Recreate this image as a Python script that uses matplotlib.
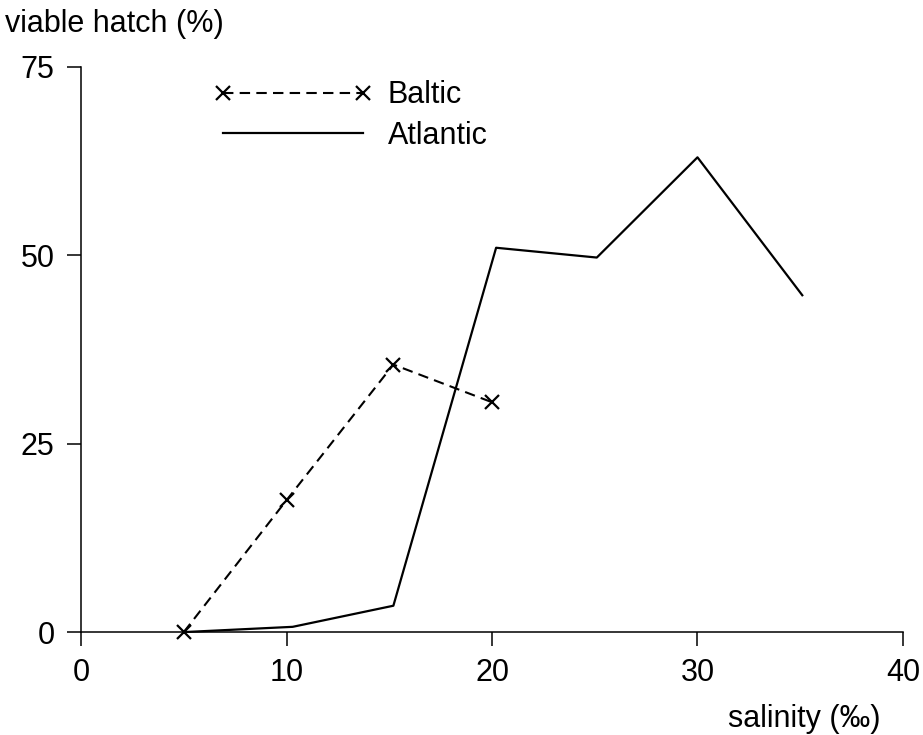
import matplotlib
matplotlib.use("Agg")
import matplotlib.pyplot as plt

plt.rcParams['font.family'] = ['Liberation Sans', 'DejaVu Sans']

# data
baltic_x = [5, 10, 15.2, 20]
baltic_y = [0, 17.5, 35.5, 30.5]
atlantic_x = [5, 10.3, 15.2, 20.2, 25.1, 30, 35.1]
atlantic_y = [0, 0.7, 3.5, 51, 49.7, 63, 44.7]

x_ticks = [0, 10, 20, 30, 40]
y_ticks = [0, 25, 50, 75]

fig = plt.figure(figsize=(9.23, 7.35), dpi=100)
ax = fig.add_axes([0.0878, 0.140, 0.8905, 0.769])

ax.plot(baltic_x, baltic_y, color='black', linestyle=(0, (5, 3)), linewidth=1.5,
        marker='x', markersize=10, markeredgewidth=1.6, label='Baltic', clip_on=False)
ax.plot(atlantic_x, atlantic_y, color='black', linewidth=1.6, label='Atlantic', clip_on=False)

ax.set_xlim(0, 40)
ax.set_ylim(0, 75)
ax.set_xticks(x_ticks)
ax.set_yticks(y_ticks)
ax.spines['top'].set_visible(False)
ax.spines['right'].set_visible(False)
for s in ['left', 'bottom']:
    ax.spines[s].set_linewidth(1.1)
ax.tick_params(direction='out', length=10, width=1.1, labelsize=22, pad=9)

fig.text(0.005, 0.968, 'viable hatch (%)', fontsize=22, ha='left', va='center')
fig.text(0.954, 0.022, 'salinity (‰)', fontsize=22, ha='right', va='center')

ax.legend(loc='upper left', bbox_to_anchor=(0.128, 1.025), frameon=False, fontsize=22,
          handlelength=5.2, handletextpad=0.5, labelspacing=0.35, numpoints=2)

fig.savefig('out.png', dpi=100)
